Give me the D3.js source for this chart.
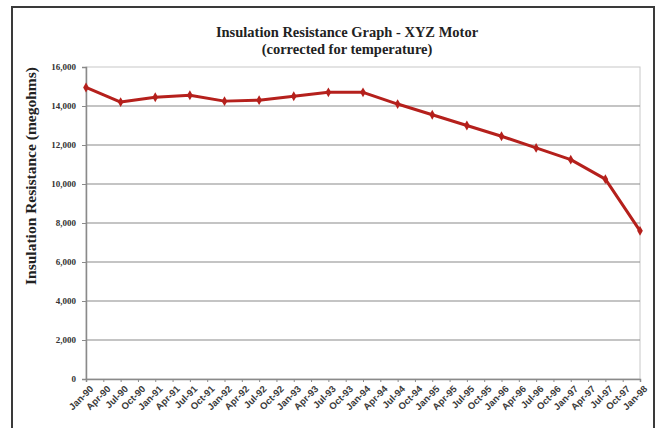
<!DOCTYPE html>
<html>
<head>
<meta charset="utf-8">
<script src="https://cdn.jsdelivr.net/npm/d3@7"></script>
<style>
  html, body { margin: 0; padding: 0; background: #fff; }
  svg { display: block; }
</style>
</head>
<body>
<div id="vis"></div>
<script>
// quarterly axis labels
var quarters = [
  'Jan-90','Apr-90','Jul-90','Oct-90','Jan-91','Apr-91','Jul-91','Oct-91',
  'Jan-92','Apr-92','Jul-92','Oct-92','Jan-93','Apr-93','Jul-93','Oct-93',
  'Jan-94','Apr-94','Jul-94','Oct-94','Jan-95','Apr-95','Jul-95','Oct-95',
  'Jan-96','Apr-96','Jul-96','Oct-96','Jan-97','Apr-97','Jul-97','Oct-97',
  'Jan-98'
];

// readings were taken twice a year
var readingDates = [
  'Jan-90','Jul-90','Jan-91','Jul-91','Jan-92','Jul-92','Jan-93','Jul-93',
  'Jan-94','Jul-94','Jan-95','Jul-95','Jan-96','Jul-96','Jan-97','Jul-97',
  'Jan-98'
];
var resistance = [
  14950, 14200, 14450, 14550, 14250, 14300, 14500, 14700,
  14700, 14100, 13550, 13000, 12450, 11850, 11250, 10250,
  7600
];

var yTicks = [0, 2000, 4000, 6000, 8000, 10000, 12000, 14000, 16000];

var width = 657;
var height = 428;
var margin = { top: 67, right: 17, bottom: 49, left: 86 };

var svg = d3.select('#vis')
  .append('svg')
  .attr('width', width)
  .attr('height', height);

// outer frame (bottom edge runs off the picture)
svg.append('rect')
  .attr('x', 12).attr('y', 7)
  .attr('width', 642).attr('height', 440)
  .attr('fill', '#fff')
  .attr('stroke', '#3a3a3a')
  .attr('stroke-width', 2);

var x = d3.scalePoint()
  .domain(quarters)
  .range([margin.left, width - margin.right]);

var y = d3.scaleLinear()
  .domain([0, 16000])
  .range([height - margin.bottom, margin.top]);

// plot area border
svg.append('rect')
  .attr('x', margin.left)
  .attr('y', margin.top)
  .attr('width', width - margin.right - margin.left)
  .attr('height', height - margin.bottom - margin.top)
  .attr('fill', 'none')
  .attr('stroke', '#c8c8c8')
  .attr('stroke-width', 1);

// gridlines
svg.append('g')
  .selectAll('line')
  .data(yTicks.filter(function(d) { return d > 0 && d < 16000; }))
  .enter().append('line')
  .attr('x1', margin.left)
  .attr('x2', width - margin.right)
  .attr('y1', function(d) { return y(d); })
  .attr('y2', function(d) { return y(d); })
  .attr('stroke', '#8a8a8a')
  .attr('stroke-width', 1.2);

// y axis
var yAxis = svg.append('g')
  .attr('transform', 'translate(' + margin.left + ',0)')
  .call(d3.axisLeft(y).tickValues(yTicks).tickSize(4).tickPadding(6).tickFormat(d3.format(',')));
yAxis.select('.domain').attr('stroke', '#8a8a8a').attr('stroke-width', 1.5);
yAxis.selectAll('.tick line').attr('stroke', '#8a8a8a');
yAxis.selectAll('text')
  .attr('font-family', '"Liberation Serif", "DejaVu Serif", serif')
  .attr('font-weight', 'bold')
  .attr('font-size', 9)
  .attr('fill', '#333');

// x axis
var xAxis = svg.append('g')
  .attr('transform', 'translate(0,' + (height - margin.bottom) + ')')
  .call(d3.axisBottom(x).tickSize(3).tickPadding(2));
xAxis.select('.domain').attr('stroke', '#8a8a8a').attr('stroke-width', 1.5);
xAxis.selectAll('.tick line').attr('stroke', '#8a8a8a');
xAxis.selectAll('text')
  .attr('font-family', '"Liberation Sans", Arial, sans-serif')
  .attr('font-weight', 'bold')
  .attr('font-size', 9.5)
  .attr('fill', '#3a3a3a')
  .attr('text-anchor', 'end')
  .attr('dy', 0)
  .attr('transform', 'translate(4,7) rotate(-45)');

// the line
var series = readingDates.map(function(d, i) { return { date: d, value: resistance[i] }; });

var line = d3.line()
  .x(function(d) { return x(d.date); })
  .y(function(d) { return y(d.value); });

svg.append('path')
  .datum(series)
  .attr('d', line)
  .attr('fill', 'none')
  .attr('stroke', '#b5201c')
  .attr('stroke-width', 3)
  .attr('stroke-linejoin', 'round');

svg.append('g')
  .selectAll('path')
  .data(series)
  .enter().append('path')
  .attr('d', d3.symbol().type(d3.symbolDiamond).size(28))
  .attr('transform', function(d) { return 'translate(' + x(d.date) + ',' + y(d.value) + ')'; })
  .attr('fill', '#b5201c');

// titles
var serif = '"Liberation Serif", "DejaVu Serif", serif';
svg.append('text')
  .attr('x', 347).attr('y', 37)
  .attr('text-anchor', 'middle')
  .attr('font-family', serif)
  .attr('font-weight', 'bold')
  .attr('font-size', 14.5)
  .attr('fill', '#222')
  .text('Insulation Resistance Graph - XYZ Motor');

svg.append('text')
  .attr('x', 347).attr('y', 54)
  .attr('text-anchor', 'middle')
  .attr('font-family', serif)
  .attr('font-weight', 'bold')
  .attr('font-size', 14.5)
  .attr('fill', '#222')
  .text('(corrected for temperature)');

svg.append('text')
  .attr('transform', 'translate(36,' + 176 + ') rotate(-90)')
  .attr('text-anchor', 'middle')
  .attr('font-family', serif)
  .attr('font-weight', 'bold')
  .attr('font-size', 15.5)
  .attr('fill', '#222')
  .text('Insulation Resistance (megohms)');
</script>
</body>
</html>
